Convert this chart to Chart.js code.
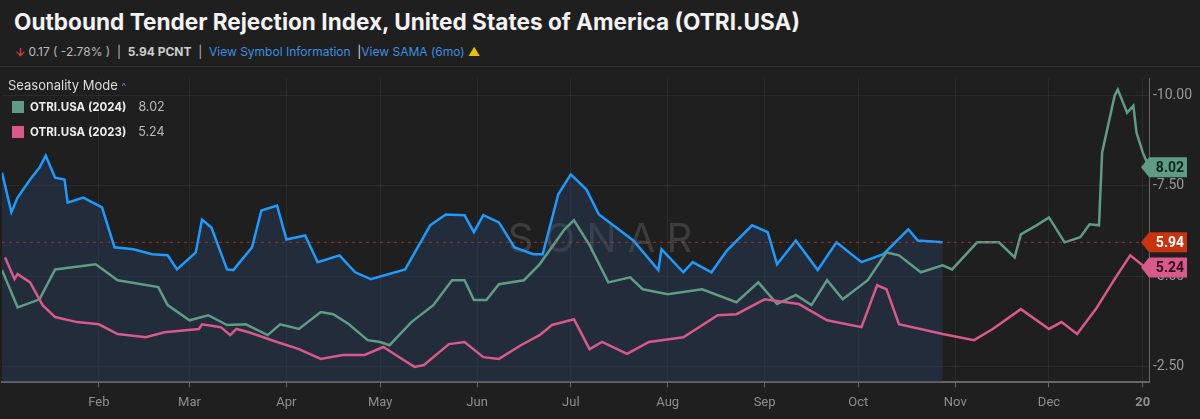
<!DOCTYPE html>
<html>
<head>
<meta charset="utf-8">
<script src="https://cdn.jsdelivr.net/npm/chart.js@4/dist/chart.umd.min.js"></script>
<style>
  body { margin: 0; background: #1f1f1f; font-family: Inter, "Noto Sans", sans-serif; overflow: hidden; }
  #wrap { position: relative; width: 1200px; height: 419px; }
  .title { position: absolute; left: 14px; top: 8px; color: #f2f2f2; font-size: 22.6px; font-weight: 700; }
  .sub { position: absolute; left: 16px; top: 43px; font-size: 12px; color: #bbb; }
  .sub b { color: #ccc; }
  .sub .lnk { color: #3d8ee0; }
  .sep { position: absolute; left: 0; top: 66px; width: 1200px; border-top: 1px solid #333; }
  .legend { position: absolute; left: 8px; top: 77px; font-size: 13px; color: #ddd; z-index: 2; }
  .legend .row { font-size: 11.5px; font-weight: 700; color: #eee; margin-top: 6px; display: flex; align-items: center; }
  .legend .sw { width: 12px; height: 12px; margin: 0 6px 0 4px; display: inline-block; }
  .legend .val { font-weight: 400; color: #bbb; margin-left: 12px; font-size: 12.5px; }
  canvas { position: absolute; left: 0; top: 66px; }
</style>
</head>
<body>
<div id="wrap">
  <div class="title">Outbound Tender Rejection Index, United States of America (OTRI.USA)</div>
  <div class="sub"><span style="color:#e0443a">&#129131;</span> 0.17 ( -2.78% ) &nbsp;|&nbsp; <b>5.94 PCNT</b> &nbsp;|&nbsp; <span class="lnk">View Symbol Information</span> &nbsp;<span style="color:#ddd">|</span><span class="lnk">View SAMA (6mo)</span> <span style="color:#e8c000">&#9650;</span></div>
  <div class="sep"></div>
  <div class="legend">
    <div>Seasonality Mode <span style="color:#3d8ee0;font-size:10px">&#94;</span></div>
    <div class="row"><span class="sw" style="background:#5f9c86"></span>OTRI.USA (2024)<span class="val">8.02</span></div>
    <div class="row" style="margin-top:10px"><span class="sw" style="background:#d9598a"></span>OTRI.USA (2023)<span class="val">5.24</span></div>
  </div>
  <canvas id="c" width="1200" height="353"></canvas>
</div>
<script>
const monthLabels = ["Feb", "Mar", "Apr", "May", "Jun", "Jul", "Aug", "Sep", "Oct", "Nov", "Dec", "20"];
const monthDays = [31, 60, 91, 121, 152, 182, 213, 244, 274, 305, 335, 365];

const curDays = [0,3,5,9,12,14,17,20,21,26,32,36,42,48,53,56,62,64,67,72,74,80,83,88,91,97,101,108,113,118,129,137,142,148,151,154,159,164,170,173,178,182,187,191,202,210,211,218,221,227,232,240,245,248,254,261,267,275,282,290,293,301];
const curVals = [7.87,6.77,7.18,7.68,8.01,8.34,7.73,7.68,7.04,7.18,6.91,5.80,5.75,5.61,5.58,5.19,5.66,6.57,6.35,5.19,5.17,5.80,6.82,6.96,6.02,6.13,5.39,5.58,5.11,4.92,5.19,6.41,6.71,6.69,6.22,6.69,6.49,5.80,5.61,5.61,7.27,7.82,7.40,6.71,5.99,5.17,5.75,5.11,5.39,5.11,5.72,6.41,6.22,5.33,5.99,5.17,5.94,5.39,5.61,6.30,5.99,5.94];

const y2024Days = [0,5,12,17,30,37,50,53,60,66,72,78,85,89,95,102,106,111,117,121,124,131,138,144,148,151,155,159,167,172,180,183,188,194,201,205,213,224,235,242,248,254,259,264,269,277,283,287,294,301,304,312,319,324,326,331,335,340,345,348,351,352,356,357,360,362,363,365,367];
const y2024Vals = [5.17,4.14,4.36,5.19,5.33,4.89,4.70,4.20,3.78,3.92,3.65,3.67,3.37,3.67,3.54,4.01,3.95,3.67,3.23,3.18,3.09,3.73,4.20,4.89,4.89,4.34,4.34,4.78,4.89,5.33,6.30,6.55,5.86,4.83,4.97,4.64,4.50,4.64,4.28,4.83,4.23,4.48,4.20,4.89,4.36,4.89,5.66,5.58,5.11,5.30,5.19,5.94,5.94,5.52,6.16,6.41,6.63,5.94,6.08,6.44,6.41,8.43,10.0,10.17,9.53,9.72,8.98,8.43,8.02];

const y2023Days = [1,4,5,9,13,17,24,31,37,46,52,63,64,70,73,75,79,88,95,102,109,116,122,128,132,135,143,148,154,159,166,172,176,183,188,192,200,207,218,229,235,244,255,264,275,280,283,287,301,311,317,326,335,339,344,350,356,361,365,367];
const y2023Vals = [5.52,4.92,5.06,4.83,4.20,3.87,3.73,3.67,3.40,3.31,3.45,3.54,3.67,3.59,3.37,3.54,3.45,3.18,2.98,2.71,2.82,2.82,3.04,2.71,2.49,2.54,3.12,3.18,2.76,2.71,3.09,3.37,3.65,3.81,2.98,3.18,2.85,3.18,3.31,3.92,3.95,4.36,4.23,3.78,3.59,4.75,4.64,3.67,3.40,3.23,3.54,4.09,3.54,3.73,3.40,4.09,4.92,5.58,5.30,5.24];

const lastPrice = 5.94;

function pts(days, vals) { return days.map((d, i) => ({ x: d, y: vals[i] })); }

const overlay = {
  id: "overlay",
  beforeDatasetsDraw(chart) {
    const { ctx } = chart;
    ctx.save();
    ctx.font = "40px Inter, sans-serif";
    ctx.fillStyle = "rgba(150,150,150,0.25)";
    ctx.textAlign = "center";
    ctx.textBaseline = "middle";
    ctx.fillText("S O N A R", 600, chart.scales.y.getPixelForValue(5.94) - 2);
    ctx.restore();
  },
  afterDatasetsDraw(chart) {
    const { ctx, chartArea: a, scales: { y } } = chart;
    ctx.save();
    const py = y.getPixelForValue(lastPrice);
    ctx.strokeStyle = "rgba(200,60,40,0.7)";
    ctx.setLineDash([3, 4]);
    ctx.lineWidth = 1;
    ctx.beginPath(); ctx.moveTo(a.left, py); ctx.lineTo(a.right, py); ctx.stroke();
    ctx.setLineDash([]);
    const tag = (v, bg, fg) => {
      const ty = y.getPixelForValue(v);
      const x0 = a.right - 8;
      ctx.fillStyle = bg;
      ctx.beginPath();
      ctx.moveTo(x0, ty);
      ctx.lineTo(x0 + 8, ty - 10);
      ctx.lineTo(1187, ty - 10);
      ctx.lineTo(1187, ty + 10);
      ctx.lineTo(x0 + 8, ty + 10);
      ctx.closePath();
      ctx.fill();
      ctx.fillStyle = fg;
      ctx.font = "bold 14px Roboto, sans-serif";
      ctx.textAlign = "right";
      ctx.textBaseline = "middle";
      ctx.fillText(v.toFixed(2), 1184, ty + 1);
    };
    tag(y2024Vals[y2024Vals.length - 1], "#5f9c86", "#10241d");
    tag(lastPrice, "#c8320f", "#ffffff");
    tag(y2023Vals[y2023Vals.length - 1], "#d9598a", "#2a0c18");
    ctx.restore();
  }
};

new Chart(document.getElementById("c"), {
  type: "line",
  data: {
    datasets: [
      { data: pts(curDays, curVals), borderColor: "#1e9bff", backgroundColor: "rgba(40,70,110,0.35)", fill: "start", borderWidth: 2.5, pointRadius: 0, tension: 0, order: 3 },
      { data: pts(y2024Days, y2024Vals), borderColor: "#5f9c86", borderWidth: 2.5, pointRadius: 0, tension: 0, fill: false, order: 2 },
      { data: pts(y2023Days, y2023Vals), borderColor: "#d9598a", borderWidth: 2.5, pointRadius: 0, tension: 0, fill: false, order: 1 }
    ]
  },
  options: {
    responsive: false,
    animation: false,
    layout: { padding: { left: 2, top: 0, right: 0, bottom: 0 } },
    plugins: { legend: { display: false }, tooltip: { enabled: false } },
    scales: {
      x: {
        type: "linear", min: 0, max: 367,
        afterBuildTicks: (s) => { s.ticks = monthDays.map(v => ({ value: v })); },
        ticks: {
          autoSkip: false, maxRotation: 0, color: "#8f8f8f", padding: 8,
          font: (c) => ({ family: "Roboto, sans-serif", size: 13, weight: c.index === monthLabels.length - 1 ? "bold" : "normal" }),
          callback: (v, i) => monthLabels[i]
        },
        grid: { color: "rgba(255,255,255,0.05)", tickLength: 5, tickColor: "#666" },
        border: { color: "#666", width: 2 }
      },
      y: {
        position: "right", min: 2.06, max: 10.48,
        afterBuildTicks: (s) => { s.ticks = [2.5, 5, 7.5, 10].map(v => ({ value: v })); },
        afterFit: (s) => { s.width = 51; },
        ticks: { color: "#9a9a9a", font: { family: "Roboto, sans-serif", size: 14 }, padding: 4, callback: (v) => "-" + v.toFixed(2) },
        grid: { color: "rgba(255,255,255,0.05)", drawTicks: false },
        border: { color: "#666", width: 1 }
      }
    }
  },
  plugins: [overlay]
});
</script>
</body>
</html>
